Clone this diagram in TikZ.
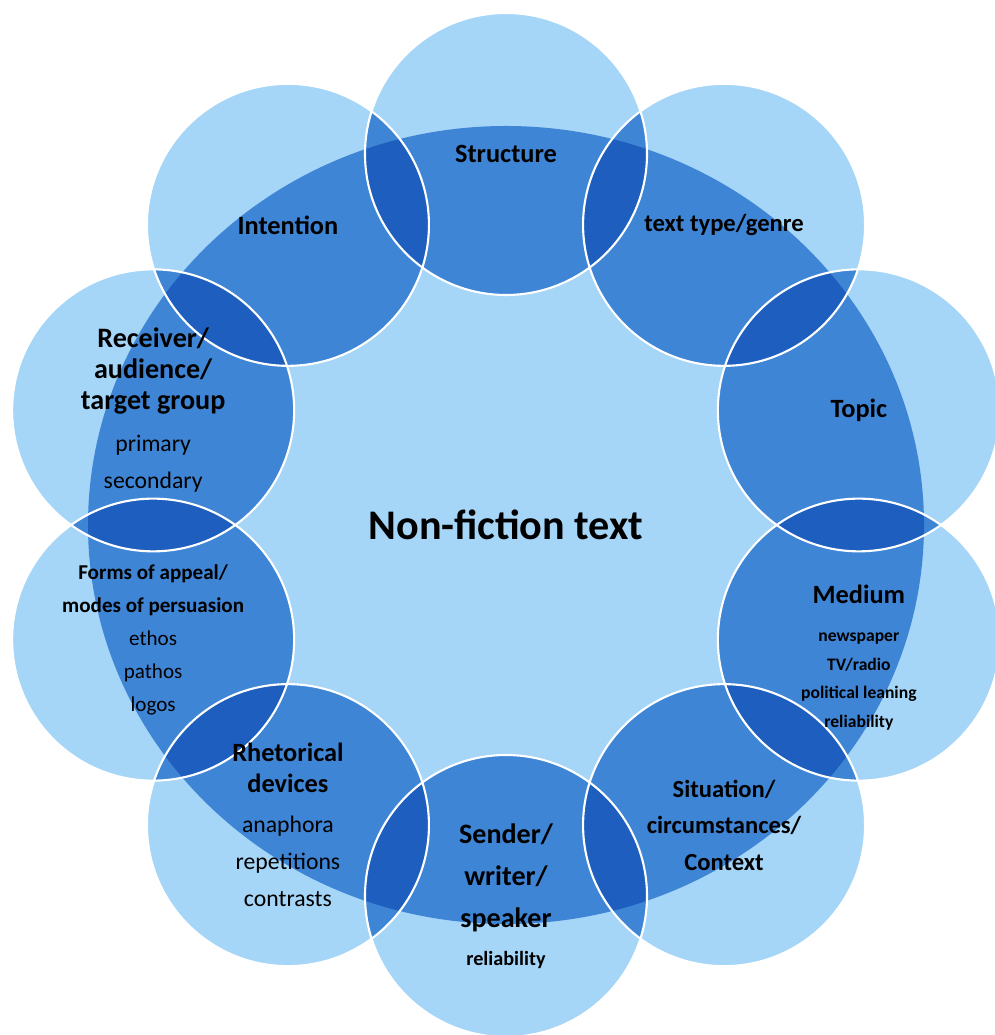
\documentclass[tikz,border=0pt]{standalone}
\usepackage{fontspec}
\setmainfont{Carlito}
\usetikzlibrary{calc}
\definecolor{satlight}{RGB}{165,213,247}
\definecolor{satmid}{RGB}{63,133,214}
\definecolor{satdark}{RGB}{30,94,190}
\newcommand{\itemtext}[1]{{\mdseries\fontsize{13.5}{16}\selectfont #1}}
\newcommand{\smallbold}[1]{{\fontsize{10}{12}\selectfont #1}}

\begin{document}
\begin{tikzpicture}[
  satlabel/.style={align=center, inner sep=0pt, text=black, font=\bfseries\fontsize{15}{17.6}\selectfont},
  ring/.style={draw=white, line width=1.2pt}
]
  \useasboundingbox (0,0) rectangle (19.88,20.70);
  \coordinate (hub) at (10.12,10.20);
  % satellite centres, clockwise from the top
  \foreach \i in {0,...,9}
    \coordinate (c\i) at ($(hub)+(90-36*\i:7.42)$);
  % central disc and satellites
  \fill[satlight] (hub) ellipse [x radius=8.36, y radius=7.98];
  \foreach \i in {0,...,9}
    \fill[satlight] (c\i) circle (2.82);
  % satellite parts inside the disc
  \begin{scope}
    \clip (hub) ellipse [x radius=8.36, y radius=7.98];
    \foreach \i in {0,...,9}
      \fill[satmid] (c\i) circle (2.82);
  \end{scope}
  % overlaps of neighbouring satellites
  \foreach \i [evaluate=\i as \j using {int(mod(\i+1,10))}] in {0,...,9} {
    \begin{scope}
      \clip (c\i) circle (2.82);
      \fill[satmid] (c\j) circle (2.82);
      \clip (hub) ellipse [x radius=8.36, y radius=7.98];
      \fill[satdark] (c\j) circle (2.82);
    \end{scope}
  }
  % white rims
  \foreach \i in {0,...,9}
    \draw[ring] (c\i) circle (2.82);
  % labels
  \node[satlabel, font=\bfseries\fontsize{24}{28}\selectfont] (title) at (hub) {Non-fiction text};
  \node[satlabel] (structure) at (c0) {Structure};
  \node[satlabel, font=\bfseries\fontsize{14}{17}\selectfont] (genre) at (c1) {text type/genre};
  \node[satlabel] (topic) at (c2) {Topic};
  \node[satlabel, font=\bfseries\fontsize{15}{16.3}\selectfont, yshift=-0.36cm] (medium) at (c3)
    {Medium\\[5.3pt]\smallbold{newspaper}\\\smallbold{TV/radio}\\\smallbold{political leaning}\\\smallbold{reliability}};
  \node[satlabel, font=\bfseries\fontsize{14}{20.8}\selectfont] (situation) at (c4) {Situation/\\circumstances/\\Context};
  \node[satlabel, font=\bfseries\fontsize{16}{23.9}\selectfont] (sender) at (c5)
    {Sender/\\writer/\\speaker\\[-2.3pt]{\fontsize{11.5}{14}\selectfont reliability}};
  \node[satlabel] (rhetoric) at (c6)
    {Rhetorical\\devices\\[5.2pt]\itemtext{anaphora}\\[3.4pt]\itemtext{repetitions}\\[3.4pt]\itemtext{contrasts}};
  \node[satlabel, font=\bfseries\fontsize{12}{18.8}\selectfont] (appeal) at (c7)
    {Forms of appeal/\\modes of persuasion\\{\mdseries ethos}\\{\mdseries pathos}\\{\mdseries logos}};
  \node[satlabel, font=\bfseries\fontsize{16}{17.6}\selectfont] (receiver) at (c8)
    {Receiver/\\audience/\\target group\\[6.3pt]\itemtext{primary}\\[3.4pt]\itemtext{secondary}};
  \node[satlabel] (intention) at (c9) {Intention};
\end{tikzpicture}
\end{document}
